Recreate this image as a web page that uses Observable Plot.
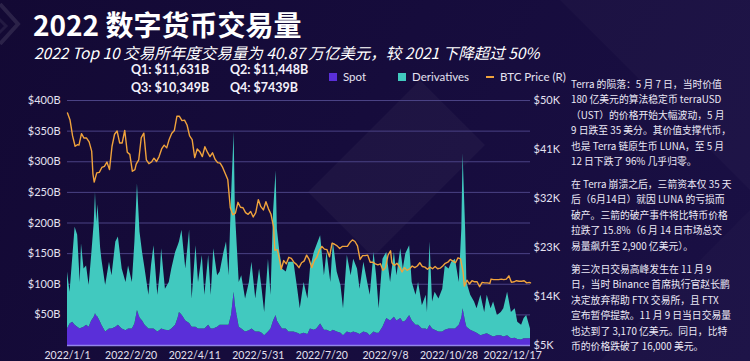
<!DOCTYPE html>
<html><head><meta charset="utf-8">
<script src="https://cdn.jsdelivr.net/npm/d3@7"></script>
<script src="https://cdn.jsdelivr.net/npm/@observablehq/plot@0.6"></script>
<style>
html,body{margin:0;padding:0;background:#150b3a;}
body{width:750px;height:361px;overflow:hidden;}
#wrap{position:relative;width:750px;height:361px;background:linear-gradient(120deg,#130934 0%,#160c3c 45%,#1a1045 100%);overflow:hidden;color:#fff;font-family:Lato,"Noto Sans CJK SC",sans-serif;}
#bg{position:absolute;left:0;top:0;}
.abs{position:absolute;white-space:nowrap;}
#title{left:33px;top:8px;font:700 28px/32px "Noto Sans CJK SC",sans-serif;color:#fff;}
#subtitle{left:34px;top:44px;font:italic 400 15.5px/16px "Noto Sans CJK SC",sans-serif;color:#fff;}
.q{font:700 12.5px/13px Lato,sans-serif;color:#f2f0fa;}
.lg{font:400 11.5px/14px Lato,sans-serif;color:#e4e1f0;}
.sw{position:absolute;width:8px;height:8px;}
.note{left:571px;font:400 9.8px/15.4px "Noto Sans CJK SC",sans-serif;color:#ece9f6;}
#chart{position:absolute;left:0;top:90px;}
</style></head>
<body><div id="wrap">
<svg id="bg" width="750" height="361">
  <polygon points="308,192 420,80 485,145 373,257" fill="rgba(255,255,255,0.035)"/>
  <polygon points="560,0 750,0 750,190" fill="rgba(255,255,255,0.025)"/>
  <polygon points="600,361 750,210 750,361" fill="rgba(255,255,255,0.02)"/>
  <polyline points="0,4 18,24 0,44" fill="none" stroke="rgba(255,255,255,0.10)" stroke-width="4"/>
  <polyline points="-8,12 6,26 -8,40" fill="none" stroke="rgba(255,255,255,0.07)" stroke-width="3"/>
</svg>
<div id="title" class="abs"></div>
<div id="subtitle" class="abs"></div>
<div id="quarters"></div>
<div id="legend"></div>
<div id="chart"></div>
<div id="notes"></div>
</div>
<script>
// ---------- data ----------
const titleText = "2022 数字货币交易量";
const subtitleText = "2022 Top 10 交易所年度交易量为 40.87 万亿美元，较 2021 下降超过 50%";
const quarterLabels = ["Q1: $11,631B", "Q2: $11,448B", "Q3: $10,349B", "Q4: $7439B"];
const seriesNames = ["Spot", "Derivatives"];
const seriesColors = ["#5a2fd9", "#41c9bf"];
const lineName = "BTC Price (R)";
const lineColor = "#f0a33c";

// day offset from 2022-01-01, spot and derivatives daily volume ($B)
const volDay = [0,2,4,6,8,10,11,13,15,17,19,21,22,23,24,26,27,30,33,35,38,40,43,46,48,51,53,55,57,59,61,64,66,68,71,73,74,77,80,82,85,87,88,90,93,96,98,101,103,106,108,111,113,115,118,120,123,125,127,129,131,132,135,137,140,143,145,148,151,153,155,158,160,162,164,165,167,169,172,174,178,181,183,186,189,191,194,196,199,202,204,207,209,212,215,217,220,223,225,228,230,233,236,238,241,243,245,248,251,254,257,259,262,264,266,269,271,274,276,279,282,283,285,287,289,292,295,297,300,302,305,308,310,311,313,314,317,320,322,325,328,330,333,335,338,341,343,346,349,352,354,357,359,361,364];
const spot = [27,35,38,33,30,27,28,30,33,30,40,46,52,48,46,38,33,22,27,27,30,33,27,24,27,27,35,57,45,40,33,27,27,27,22,25,27,25,24,27,33,45,54,50,40,36,30,30,27,27,27,33,27,27,30,33,33,33,33,50,87,65,30,27,22,24,27,22,22,20,16,22,27,40,49,40,33,27,27,22,22,20,18,20,18,27,25,27,35,25,25,22,25,22,20,16,22,20,22,20,18,22,20,16,22,20,20,30,44,40,46,40,44,38,40,49,40,33,33,27,27,25,33,27,25,22,22,25,27,27,27,33,45,60,38,30,25,22,20,16,18,19,16,14,16,16,14,16,11,12,10,9,11,11,11];
const derivatives = [93,52,102,160,150,76,138,95,97,68,107,154,198,153,184,122,108,76,109,87,139,144,98,79,103,76,134,207,140,112,92,55,103,136,60,95,131,67,79,98,119,118,115,138,85,152,46,133,76,120,55,114,55,131,84,87,119,136,81,195,261,153,73,87,54,79,109,54,103,72,38,119,55,178,236,150,119,98,93,114,114,72,42,83,58,98,127,136,144,89,127,81,144,98,78,44,125,94,119,105,74,114,83,66,130,94,40,111,108,63,106,74,114,87,110,114,63,49,70,38,55,29,136,44,62,54,70,105,98,109,114,70,145,253,152,73,57,49,40,66,36,63,44,57,33,38,46,71,43,48,28,24,33,38,16];

// BTC close price ($K)
const btcDay = [0,2,4,6,8,9,11,13,15,17,19,20,21,23,25,27,29,31,33,35,37,39,41,43,45,47,49,51,53,54,56,58,60,62,64,66,68,70,72,74,76,78,80,82,84,86,88,90,92,94,96,98,100,102,104,106,108,110,112,114,116,118,120,122,124,126,128,130,132,134,136,138,140,142,144,146,148,150,152,154,156,158,160,162,163,165,167,168,170,172,174,176,178,180,182,184,186,188,190,192,194,196,198,200,202,204,206,208,210,212,214,216,218,220,222,224,226,228,230,232,234,236,238,240,242,244,246,248,250,252,254,255,257,259,261,263,265,267,269,271,273,275,277,279,281,283,285,287,289,291,293,295,297,299,301,303,305,307,309,311,312,314,316,318,320,322,324,326,328,330,332,333,335,337,339,341,343,345,347,349,351,353,355,357,359,361,363,364];
const btcPrice = [47.7,46.4,43.5,41.6,41.9,41.8,43.9,43.1,43.1,42.4,40.7,36.5,35.0,36.7,36.8,37.7,37.9,38.7,37.3,41.6,43.8,44.4,42.2,42.2,44.5,40.5,40.1,37.0,37.3,38.3,39.1,43.2,44.0,39.1,38.4,38.7,39.4,38.8,39.7,41.1,41.8,41.3,42.9,44.0,44.5,47.1,47.1,46.3,46.4,45.5,43.5,42.8,39.5,41.1,40.6,39.7,41.5,40.5,39.7,40.4,39.2,38.6,38.5,37.7,36.6,35.5,30.3,29.0,29.3,31.3,30.4,30.3,29.4,29.1,29.6,28.6,29.4,31.8,30.5,29.9,31.4,30.1,29.1,26.8,22.5,22.6,20.4,19.0,20.6,20.0,21.2,21.0,20.3,19.9,19.3,20.2,20.5,21.6,20.8,19.3,20.6,21.2,22.5,23.2,22.7,22.6,21.3,23.8,23.6,23.3,22.8,23.2,23.2,23.2,23.9,24.4,24.1,23.3,20.8,21.5,21.5,21.6,20.3,20.3,20.0,19.8,20.0,18.8,19.3,21.6,22.4,20.2,19.7,20.1,19.5,18.5,19.3,18.8,19.1,19.6,19.3,19.6,20.2,19.5,19.4,19.0,19.4,19.1,19.5,19.1,19.2,19.6,20.1,20.3,20.8,20.5,20.2,21.1,20.9,18.5,15.9,17.0,16.3,16.9,16.7,16.7,15.8,16.6,16.5,16.5,16.4,17.2,17.1,17.1,17.1,17.2,17.1,17.2,17.8,16.6,16.7,16.9,16.8,16.8,16.9,16.5,16.6,16.5];

const leftTicks = [50,100,150,200,250,300,350,400];
const leftMax = 400;
const rightTicks = [5,14,23,32,41,50];
const rightTickLabels = ["$5K","$14K","$23K","$32K","$41K","$50K"];
const xTickDays = [0,50,100,150,200,250,300,350];

const notes = [
  ["Terra 的陨落：5 月 7 日，当时价值","180 亿美元的算法稳定币 terraUSD","（UST）的价格开始大幅波动，5 月","9 日跌至 35 美分。其价值支撑代币，","也是 Terra 链原生币 LUNA，至 5 月","12 日下跌了 96% 几乎归零。"],
  ["在 Terra 崩溃之后，三箭资本仅 35 天","后（6月14日）就因 LUNA 的亏损而","破产。三箭的破产事件将比特币价格","拉跌了 15.8%（6 月 14 日市场总交","易量飙升至 2,900 亿美元）。"],
  ["第三次日交易高峰发生在 11 月 9","日，当时 Binance 首席执行官赵长鹏","决定放弃帮助 FTX 交易所，且 FTX","宣布暂停提款。11 月 9 日当日交易量","也达到了 3,170 亿美元。同日，比特","币的价格跌破了 16,000 美元。"]
];

// ---------- text ----------
document.getElementById("title").textContent = titleText;
document.getElementById("subtitle").textContent = subtitleText;
const qPos = [[131,63],[230,63],[131,81],[230,81]];
const qDiv = document.getElementById("quarters");
quarterLabels.forEach((t,i)=>{const d=document.createElement("div");d.className="abs q";d.style.left=qPos[i][0]+"px";d.style.top=qPos[i][1]+"px";d.textContent=t;qDiv.appendChild(d);});

const lg = document.getElementById("legend");
const lgItems = [[329,"sq",seriesColors[0],seriesNames[0]],[398,"sq",seriesColors[1],seriesNames[1]],[486,"ln",lineColor,lineName]];
lgItems.forEach(([x,kind,c,t])=>{
  const s=document.createElement("div");s.className="sw";
  if(kind==="sq"){s.style.left=x+"px";s.style.top="73px";s.style.background=c;}
  else{s.style.left=x+"px";s.style.top="76px";s.style.width="8px";s.style.height="1.5px";s.style.background=c;}
  lg.appendChild(s);
  const d=document.createElement("div");d.className="abs lg";d.style.left=(x+14)+"px";d.style.top="70px";d.textContent=t;lg.appendChild(d);
});

const nDiv = document.getElementById("notes");
const nTops = [77,177,262];
notes.forEach((lines,i)=>{const d=document.createElement("div");d.className="abs note";d.style.top=nTops[i]+"px";d.innerHTML=lines.map(l=>l.replace(/&/g,"&amp;")).join("<br>");nDiv.appendChild(d);});

// ---------- chart ----------
const dayToDate = d => new Date(Date.UTC(2022,0,1+d));
const rows = [];
volDay.forEach((d,i)=>{
  rows.push({date:dayToDate(d), series:seriesNames[0], value:spot[i]});
  rows.push({date:dayToDate(d), series:seriesNames[1], value:derivatives[i]});
});
const btc = btcDay.map((d,i)=>({date:dayToDate(d), price:btcPrice[i]}));
const rMin = rightTicks[0], rMax = rightTicks[rightTicks.length-1];
const priceToY = p => (p - rMin)/(rMax - rMin)*leftMax;
const rightLabelMap = new Map(rightTicks.map((t,i)=>[Math.round(priceToY(t)), rightTickLabels[i]]));

const chart = Plot.plot({
  width:570, height:271,
  marginLeft:67, marginRight:40, marginTop:10, marginBottom:16,
  style:{background:"transparent", color:"#e4e1f0", fontFamily:"Lato, sans-serif", fontSize:"11px", overflow:"visible"},
  x:{type:"utc", domain:[dayToDate(0), dayToDate(364)], label:null},
  y:{domain:[0,leftMax], label:null},
  color:{domain:seriesNames, range:seriesColors},
  marks:[
    Plot.ruleY(leftTicks, {stroke:"#4a4284", strokeWidth:1}),
    Plot.areaY(rows, {x:"date", y:"value", fill:"series", order:seriesNames}),
    Plot.ruleY([0], {stroke:"#9385ea", strokeWidth:1.5}),
    Plot.line(btc, {x:"date", y:d=>priceToY(d.price), stroke:lineColor, strokeWidth:1.4}),
    Plot.axisY(leftTicks, {anchor:"left", tickSize:0, tickPadding:7, tickFormat:d=>`$${d}B`, label:null}),
    Plot.axisY(rightTicks.map(priceToY), {anchor:"right", tickSize:0, tickPadding:3, tickFormat:v=>rightLabelMap.get(Math.round(v)), label:null}),
    Plot.axisX(xTickDays.map(dayToDate), {tickSize:0, tickPadding:6, fontSize:10.5, tickFormat:d3.utcFormat("%Y/%-m/%-d"), label:null})
  ]
});
document.getElementById("chart").appendChild(chart);
</script>
</body></html>
